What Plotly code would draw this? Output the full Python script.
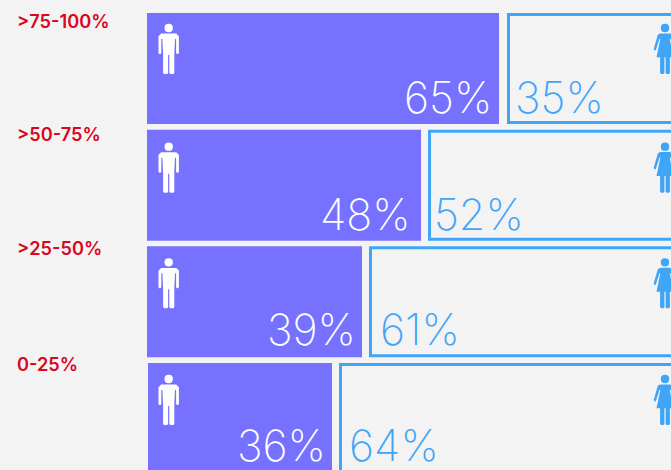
import plotly.graph_objects as go

# Data
categories = [">75-100%", ">50-75%", ">25-50%", "0-25%"]
men_share = [65, 48, 39, 36]
women_share = [35, 52, 61, 64]
# Drawn bar lengths are not proportional to the printed shares in the source,
# so they are read separately (x axis unit = one screen pixel).
men_length = [352, 274, 215, 184]
women_length = [300, 380, 440, 470]

W, H = 671, 470
ROW_PITCH = 116.67
ROW0_CENTER = 68.5
BAR_H = 111
MEN = "#7672ff"
WOMEN = "#41a5f7"
BG = "#f3f3f3"
RED = "#d9061f"
men_start = [147, 147, 147, 148]
gaps = [8, 7, 7, 7]
border = 3
label_y = [21, 134, 248, 364]
icon_shift = [0, 2, 1, 1]
men_text_right = [494, 413, 358, 328]
women_text_left = [513, 432, 378, 347]
text_shift = [-28, -29, -27.5, -26]

rows = list(range(len(categories)))
u = 1 / ROW_PITCH
men_end = [s + l for s, l in zip(men_start, men_length)]
women_start = [e + g + border / 2 for e, g in zip(men_end, gaps)]

fig = go.Figure()
fig.add_bar(y=rows, x=men_length, base=men_start, orientation="h", width=BAR_H * u,
            marker=dict(color=MEN, line=dict(width=0)), hoverinfo="skip")
fig.add_bar(y=rows, x=women_length, base=women_start, orientation="h", width=(BAR_H - border) * u,
            marker=dict(color=BG, line=dict(color=WOMEN, width=border)), hoverinfo="skip")


def man(cx, r):
    pts = [(-7.5, 5.6), (7.5, 5.6), (10.2, 8.2), (10.2, 25), (9.4, 26), (8.3, 26), (7.4, 25), (7.4, 11),
           (6.3, 11), (5.6, 26), (5.6, 45), (4.6, 46), (1.6, 46), (0.6, 45), (0.6, 27), (-0.6, 27), (-0.6, 45),
           (-1.6, 46), (-4.6, 46), (-5.6, 45), (-5.6, 26), (-6.3, 11), (-7.4, 11), (-7.4, 25), (-8.3, 26),
           (-9.4, 26), (-10.2, 25), (-10.2, 8.2)]
    return icon(cx, r, pts, 4.2)


def woman(cx, r):
    pts = [(-5, 5.4), (5, 5.4), (7.2, 6.8), (11.3, 21), (10.6, 22.6), (9.2, 22.3), (5.4, 10.6), (4.7, 11),
           (8.5, 29.3), (4.9, 29.3), (4.9, 45), (3.9, 46), (1.6, 46), (0.6, 45), (0.6, 29.3), (-0.6, 29.3),
           (-0.6, 45), (-1.6, 46), (-3.9, 46), (-4.9, 45), (-4.9, 29.3), (-8.5, 29.3), (-4.7, 11), (-5.4, 10.6),
           (-9.2, 22.3), (-10.6, 22.6), (-11.3, 21), (-7.2, 6.8)]
    return icon(cx, r, pts, 4.2)


def icon(cx, r, pts, hr):
    # icon is placed relative to its row; head centre sits about 40.5 px above row centre
    Y = lambda v: r + (v - 40.5 + icon_shift[r]) * u
    body = "M" + " L".join(f"{cx + x:.2f},{Y(y):.4f}" for x, y in pts) + " Z"
    head = (f"M{cx - hr:.2f},{Y(0):.4f} "
            + " ".join(f"Q{cx + a * hr:.2f},{Y(b * hr):.4f} {cx + c * hr:.2f},{Y(d * hr):.4f}"
                       for a, b, c, d in [(-1, -1, 0, -1), (1, -1, 1, 0), (1, 1, 0, 1), (-1, 1, -1, 0)])
            + " Z")
    return body + " " + head


shapes = []
for r in rows:
    for path, col in ((man(168.7, r), "white"), (woman(665, r), WOMEN)):
        shapes.append(dict(type="path", path=path, xref="x", yref="y", fillcolor=col,
                           line=dict(width=0), layer="above"))

annotations = []
PCT = dict(family="Inter", size=43, weight=200)
for r in rows:
    annotations.append(dict(x=men_text_right[r], y=r, xref="x", yref="y", text=f"{men_share[r]}%", showarrow=False,
                            xanchor="right", yanchor="middle", yshift=text_shift[r],
                            font=dict(PCT, color="white")))
    annotations.append(dict(x=women_text_left[r], y=r, xref="x", yref="y", text=f"{women_share[r]}%", showarrow=False,
                            xanchor="left", yanchor="middle", yshift=text_shift[r],
                            font=dict(PCT, color=WOMEN)))
    annotations.append(dict(x=15, y=1 - label_y[r] / H, xref="x", yref="paper", text=categories[r], showarrow=False,
                            xanchor="left", yanchor="middle",
                            font=dict(family="Inter", size=18.2, weight=600, color=RED)))

fig.update_layout(
    width=W, height=H, margin=dict(l=0, r=0, t=0, b=0), paper_bgcolor=BG, plot_bgcolor=BG,
    showlegend=False, barmode="overlay", shapes=shapes, annotations=annotations,
    xaxis=dict(range=[0, W], visible=False, fixedrange=True),
    yaxis=dict(range=[(H - ROW0_CENTER) * u, -ROW0_CENTER * u], visible=False, fixedrange=True),
)
fig.write_html("out.html", config=dict(displayModeBar=False),
               post_script="document.body.style.margin='0';document.body.style.overflow='hidden';"
                           "document.documentElement.style.background='#f3f3f3';")
